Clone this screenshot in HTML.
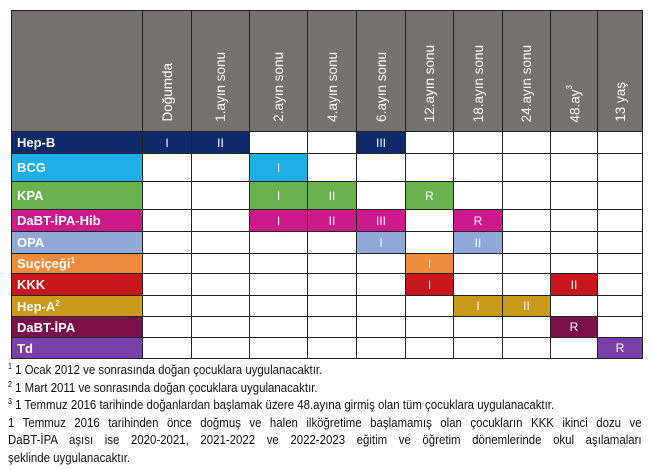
<!DOCTYPE html>
<html><head><meta charset="utf-8"><style>
body{margin:0;width:652px;height:470px;background:#fff;font-family:"Liberation Sans",sans-serif;position:relative;overflow:hidden}
table{position:absolute;left:11px;top:10px;border-collapse:collapse;table-layout:fixed}
td{border:1.5px solid #222;padding:0;color:#fff;font-size:12px;text-align:center;overflow:hidden}
td.l{text-align:left;padding-left:5px;font-weight:bold;font-size:13px}
tr.h td{background:#767171;vertical-align:bottom}
.v{writing-mode:vertical-rl;transform:rotate(180deg);display:inline-block;font-size:13.5px;margin-bottom:6px;white-space:nowrap}
sup{font-size:8px;vertical-align:baseline;position:relative;top:-5px;line-height:0}
.v sup{position:static;vertical-align:super;line-height:normal;top:auto}
.f{position:absolute;left:8px;top:361px;width:720px;transform:scaleX(0.88);transform-origin:0 0;font-size:13px;color:#111;line-height:17.6px}
.f div{white-space:nowrap;height:17.6px}
.f .j{text-align:justify;text-align-last:justify;white-space:normal}
</style></head><body>
<table>
<colgroup><col style="width:131px"><col style="width:49px"><col style="width:58px"><col style="width:58px"><col style="width:49px"><col style="width:49px"><col style="width:48px"><col style="width:49px"><col style="width:48px"><col style="width:47px"><col style="width:45px"></colgroup>
<tr class="h" style="height:121px"><td></td><td><span class="v">Doğumda</span></td><td><span class="v">1.ayın sonu</span></td><td><span class="v">2.ayın sonu</span></td><td><span class="v">4.ayın sonu</span></td><td><span class="v">6.ayın sonu</span></td><td><span class="v">12.ayın sonu</span></td><td><span class="v">18.ayın sonu</span></td><td><span class="v">24.ayın sonu</span></td><td><span class="v">48.ay<sup>3</sup></span></td><td><span class="v">13 yaş</span></td></tr>
<tr style="height:22px"><td class="l" style="background:#0f2a6b">Hep-B</td><td style="background:#0f2a6b">I</td><td style="background:#0f2a6b">II</td><td></td><td></td><td style="background:#0f2a6b">III</td><td></td><td></td><td></td><td></td><td></td></tr>
<tr style="height:28px"><td class="l" style="background:#1eaee8">BCG</td><td></td><td></td><td style="background:#1eaee8">I</td><td></td><td></td><td></td><td></td><td></td><td></td><td></td></tr>
<tr style="height:28px"><td class="l" style="background:#6ab04c">KPA</td><td></td><td></td><td style="background:#6ab04c">I</td><td style="background:#6ab04c">II</td><td></td><td style="background:#6ab04c">R</td><td></td><td></td><td></td><td></td></tr>
<tr style="height:22px"><td class="l" style="background:#cc1a8a">DaBT-İPA-Hib</td><td></td><td></td><td style="background:#cc1a8a">I</td><td style="background:#cc1a8a">II</td><td style="background:#cc1a8a">III</td><td></td><td style="background:#cc1a8a">R</td><td></td><td></td><td></td></tr>
<tr style="height:22px"><td class="l" style="background:#8fa9d8">OPA</td><td></td><td></td><td></td><td></td><td style="background:#8fa9d8">I</td><td></td><td style="background:#8fa9d8">II</td><td></td><td></td><td></td></tr>
<tr style="height:20px"><td class="l" style="background:#f08a3c">Suçiçeği<sup>1</sup></td><td></td><td></td><td></td><td></td><td></td><td style="background:#f08a3c">I</td><td></td><td></td><td></td><td></td></tr>
<tr style="height:22px"><td class="l" style="background:#c8161d">KKK</td><td></td><td></td><td></td><td></td><td></td><td style="background:#c8161d">I</td><td></td><td></td><td style="background:#c8161d">II</td><td></td></tr>
<tr style="height:21px"><td class="l" style="background:#c99a1a">Hep-A<sup>2</sup></td><td></td><td></td><td></td><td></td><td></td><td></td><td style="background:#c99a1a">I</td><td style="background:#c99a1a">II</td><td></td><td></td></tr>
<tr style="height:21px"><td class="l" style="background:#7a1048">DaBT-İPA</td><td></td><td></td><td></td><td></td><td></td><td></td><td></td><td></td><td style="background:#7a1048">R</td><td></td></tr>
<tr style="height:21px"><td class="l" style="background:#7b3fa8">Td</td><td></td><td></td><td></td><td></td><td></td><td></td><td></td><td></td><td></td><td style="background:#7b3fa8">R</td></tr>
</table>
<div class="f">
<div><sup>1</sup> 1 Ocak 2012 ve sonrasında doğan çocuklara uygulanacaktır.</div>
<div><sup>2</sup> 1 Mart 2011 ve sonrasında doğan çocuklara uygulanacaktır.</div>
<div><sup>3</sup> 1 Temmuz 2016 tarihinde doğanlardan başlamak üzere 48.ayına girmiş olan tüm çocuklara uygulanacaktır.</div>
<div class="j">1 Temmuz 2016 tarihinden önce doğmuş ve halen ilköğretime başlamamış olan çocukların KKK ikinci dozu ve</div>
<div class="j">DaBT-İPA aşısı ise 2020-2021, 2021-2022 ve 2022-2023 eğitim ve öğretim dönemlerinde okul aşılamaları</div>
<div>şeklinde uygulanacaktır.</div>
</div>
</body></html>
